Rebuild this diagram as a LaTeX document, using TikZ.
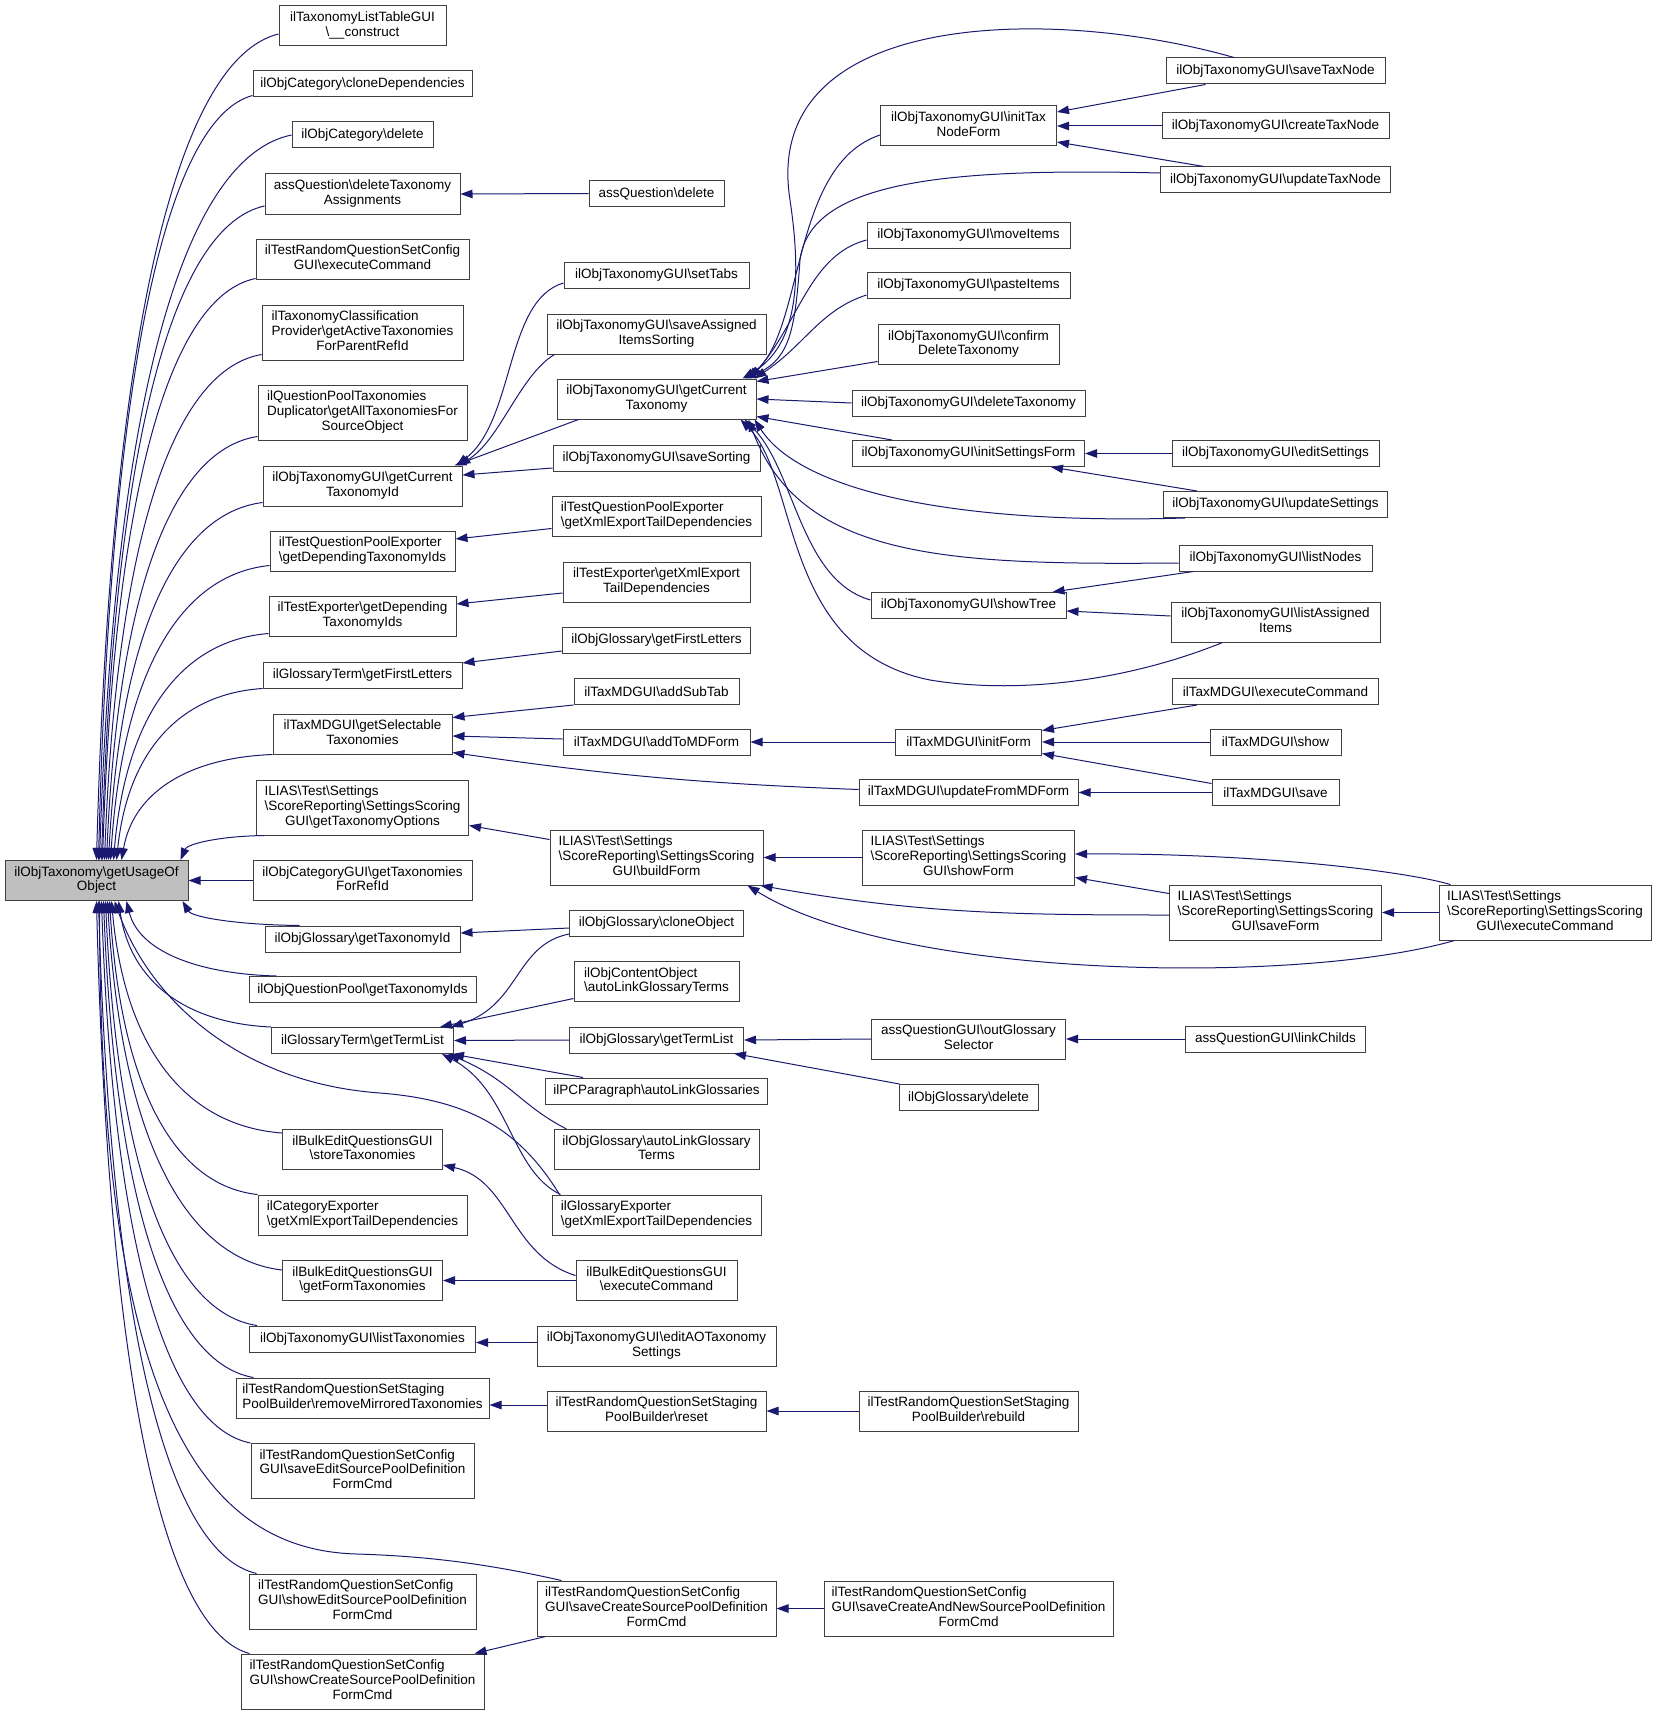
\documentclass[tikz,border=0pt]{standalone}
\usepackage{fontspec}
\setmainfont{Liberation Sans}
\usetikzlibrary{arrows.meta,calc}
\definecolor{edgeBlue}{HTML}{191970}
\definecolor{boxLine}{HTML}{404040}
\definecolor{rootGray}{HTML}{BFBFBF}
\newcommand{\bs}{\textbackslash}
\newcommand{\twol}[2]{\begin{tabular}{@{}l@{}}#1\\\multicolumn{1}{@{}c@{}}{#2}\end{tabular}}
\newcommand{\thrl}[3]{\begin{tabular}{@{}l@{}}#1\\#2\\\multicolumn{1}{@{}c@{}}{#3}\end{tabular}}
% caller end #1, tip on the callee #2
\newcommand{\rootlink}[2]{%
  \draw[link] let \p1=(#2), \p2=(#1) in
    (\p2) .. controls ({\x1+0.45*(\x2-\x1)},{\y2-0.03*(\y2-\y1)})
             and ({\x1+0.08*(\x2-\x1)},{\y1+0.65*(\y2-\y1)}) .. (\p1);}
\tikzset{
  fn/.style={draw=boxLine,line width=1pt,fill=white,inner sep=0pt,
    font=\fontsize{13.5}{14.6}\selectfont},
  hA/.style={minimum height=26pt},
  hB/.style={minimum height=40pt},
  hC/.style={minimum height=55pt},
  wd/.style={minimum width=#1pt},
  link/.style={draw=edgeBlue,line width=1pt,-{Triangle[length=12pt,width=8.5pt]}},
}

\begin{document}
\begin{tikzpicture}[x=1pt,y=1pt]
  \useasboundingbox (0,0) rectangle (1656,-1715);

  \node[fn,fill=rootGray,hB,wd=183] (root) at (96.5,-880.5) {\twol{ilObjTaxonomy\bs getUsageOf}{Object}};

  % first rank of callers
  \node[fn,hB,wd=167] (listtable) at (362.5,-26) {\twol{ilTaxonomyListTableGUI}{\bs\_\_construct}};
  \node[fn,hA,wd=219] (catclone) at (362.5,-84) {ilObjCategory\bs cloneDependencies};
  \node[fn,hA,wd=141] (catdel) at (362.5,-135) {ilObjCategory\bs delete};
  \node[fn,hB,wd=195] (aqdeltax) at (362.5,-194) {\twol{assQuestion\bs deleteTaxonomy}{Assignments}};
  \node[fn,hB,wd=213] (trqscExec) at (362.5,-259) {\twol{ilTestRandomQuestionSetConfig}{GUI\bs executeCommand}};
  \node[fn,hC,wd=201] (taxClass) at (362.5,-332.5) {\thrl{ilTaxonomyClassification}{Provider\bs getActiveTaxonomies}{ForParentRefId}};
  \node[fn,hC,wd=209] (qpTaxDup) at (362.5,-412.5) {\thrl{ilQuestionPoolTaxonomies}{Duplicator\bs getAllTaxonomiesFor}{SourceObject}};
  \node[fn,hB,wd=199] (gcTaxId) at (362.5,-486) {\twol{ilObjTaxonomyGUI\bs getCurrent}{TaxonomyId}};
  \node[fn,hB,wd=185] (tqpeDep) at (362.5,-551) {\twol{ilTestQuestionPoolExporter}{\bs getDependingTaxonomyIds}};
  \node[fn,hB,wd=187] (texpDep) at (362.5,-616) {\twol{ilTestExporter\bs getDepending}{TaxonomyIds}};
  \node[fn,hA,wd=199] (gtFirst) at (362.5,-675) {ilGlossaryTerm\bs getFirstLetters};
  \node[fn,hB,wd=179] (mdSelect) at (362.5,-734) {\twol{ilTaxMDGUI\bs getSelectable}{Taxonomies}};
  \node[fn,hC,wd=212] (ssTaxOpt) at (362.5,-807.5) {\thrl{ILIAS\bs Test\bs Settings}{\bs ScoreReporting\bs SettingsScoring}{GUI\bs getTaxonomyOptions}};
  \node[fn,hB,wd=219] (catGui) at (362.5,-880.5) {\twol{ilObjCategoryGUI\bs getTaxonomies}{ForRefId}};
  \node[fn,hA,wd=195] (ogTaxId) at (362.5,-939) {ilObjGlossary\bs getTaxonomyId};
  \node[fn,hA,wd=227] (oqpTaxIds) at (362.5,-989.5) {ilObjQuestionPool\bs getTaxonomyIds};
  \node[fn,hA,wd=182] (gtTermList) at (362.5,-1040.5) {ilGlossaryTerm\bs getTermList};
  \node[fn,hB,wd=160] (beqStore) at (362.5,-1149.5) {\twol{ilBulkEditQuestionsGUI}{\bs storeTaxonomies}};
  \node[fn,hB,wd=209] (catExp) at (362.5,-1215) {\twol{ilCategoryExporter}{\bs getXmlExportTailDependencies}};
  \node[fn,hB,wd=160] (beqForm) at (362.5,-1280.5) {\twol{ilBulkEditQuestionsGUI}{\bs getFormTaxonomies}};
  \node[fn,hA,wd=226] (otgList) at (362.5,-1339) {ilObjTaxonomyGUI\bs listTaxonomies};
  \node[fn,hB,wd=253] (spbRemove) at (362.5,-1398) {\twol{ilTestRandomQuestionSetStaging}{PoolBuilder\bs removeMirroredTaxonomies}};
  \node[fn,hC,wd=223] (scSaveEdit) at (362.5,-1471) {\thrl{ilTestRandomQuestionSetConfig}{GUI\bs saveEditSourcePoolDefinition}{FormCmd}};
  \node[fn,hC,wd=227] (scShowEdit) at (362.5,-1601.5) {\thrl{ilTestRandomQuestionSetConfig}{GUI\bs showEditSourcePoolDefinition}{FormCmd}};
  \node[fn,hC,wd=243] (scShowCreate) at (362.5,-1681.5) {\thrl{ilTestRandomQuestionSetConfig}{GUI\bs showCreateSourcePoolDefinition}{FormCmd}};

  % second rank
  \node[fn,hA,wd=135] (aqDelete) at (656.5,-193.5) {assQuestion\bs delete};
  \node[fn,hA,wd=185] (otgTabs) at (656.5,-275) {ilObjTaxonomyGUI\bs setTabs};
  \node[fn,hB,wd=219] (otgSaveAssigned) at (656.5,-334) {\twol{ilObjTaxonomyGUI\bs saveAssigned}{ItemsSorting}};
  \node[fn,hB,wd=199] (otgCurrent) at (656.5,-399) {\twol{ilObjTaxonomyGUI\bs getCurrent}{Taxonomy}};
  \node[fn,hA,wd=207] (otgSaveSort) at (656.5,-458) {ilObjTaxonomyGUI\bs saveSorting};
  \node[fn,hB,wd=209] (tqpeXml) at (656.5,-516) {\twol{ilTestQuestionPoolExporter}{\bs getXmlExportTailDependencies}};
  \node[fn,hB,wd=187] (texpXml) at (656.5,-582) {\twol{ilTestExporter\bs getXmlExport}{TailDependencies}};
  \node[fn,hA,wd=188] (ogFirst) at (656.5,-640) {ilObjGlossary\bs getFirstLetters};
  \node[fn,hA,wd=165] (mdSubTab) at (656.5,-691.5) {ilTaxMDGUI\bs addSubTab};
  \node[fn,hA,wd=187] (mdAddTo) at (656.5,-742) {ilTaxMDGUI\bs addToMDForm};
  \node[fn,hC,wd=213] (ssBuild) at (656.5,-857.5) {\thrl{ILIAS\bs Test\bs Settings}{\bs ScoreReporting\bs SettingsScoring}{GUI\bs buildForm}};
  \node[fn,hA,wd=174] (ogClone) at (656.5,-923) {ilObjGlossary\bs cloneObject};
  \node[fn,hB,wd=165] (ocoLink) at (656.5,-981.5) {\twol{ilObjContentObject}{\bs autoLinkGlossaryTerms}};
  \node[fn,hA,wd=174] (ogTermList) at (656.5,-1040) {ilObjGlossary\bs getTermList};
  \node[fn,hA,wd=222] (pcpLink) at (656.5,-1091) {ilPCParagraph\bs autoLinkGlossaries};
  \node[fn,hB,wd=205] (ogLink) at (656.5,-1149.5) {\twol{ilObjGlossary\bs autoLinkGlossary}{Terms}};
  \node[fn,hB,wd=209] (glExp) at (656.5,-1215) {\twol{ilGlossaryExporter}{\bs getXmlExportTailDependencies}};
  \node[fn,hB,wd=161] (beqExec) at (656.5,-1280.5) {\twol{ilBulkEditQuestionsGUI}{\bs executeCommand}};
  \node[fn,hB,wd=239] (otgEditAO) at (656.5,-1346) {\twol{ilObjTaxonomyGUI\bs editAOTaxonomy}{Settings}};
  \node[fn,hB,wd=219] (spbReset) at (656.5,-1411) {\twol{ilTestRandomQuestionSetStaging}{PoolBuilder\bs reset}};
  \node[fn,hC,wd=239] (scSaveCreate) at (656.5,-1608.5) {\thrl{ilTestRandomQuestionSetConfig}{GUI\bs saveCreateSourcePoolDefinition}{FormCmd}};

  % third rank
  \node[fn,hB,wd=176] (otgInitTax) at (968.5,-126) {\twol{ilObjTaxonomyGUI\bs initTax}{NodeForm}};
  \node[fn,hA,wd=203] (otgMove) at (968.5,-235) {ilObjTaxonomyGUI\bs moveItems};
  \node[fn,hA,wd=203] (otgPaste) at (968.5,-285.5) {ilObjTaxonomyGUI\bs pasteItems};
  \node[fn,hB,wd=181] (otgConfirm) at (968.5,-344.5) {\twol{ilObjTaxonomyGUI\bs confirm}{DeleteTaxonomy}};
  \node[fn,hA,wd=233] (otgDelete) at (968.5,-403) {ilObjTaxonomyGUI\bs deleteTaxonomy};
  \node[fn,hA,wd=232] (otgInitSet) at (968.5,-453.5) {ilObjTaxonomyGUI\bs initSettingsForm};
  \node[fn,hA,wd=195] (otgTree) at (968.5,-605.5) {ilObjTaxonomyGUI\bs showTree};
  \node[fn,hA,wd=146] (mdInit) at (968.5,-742) {ilTaxMDGUI\bs initForm};
  \node[fn,hA,wd=219] (mdUpdate) at (968.5,-792.5) {ilTaxMDGUI\bs updateFromMDForm};
  \node[fn,hC,wd=212] (ssShow) at (968.5,-857.5) {\thrl{ILIAS\bs Test\bs Settings}{\bs ScoreReporting\bs SettingsScoring}{GUI\bs showForm}};
  \node[fn,hB,wd=194] (qguiOut) at (968.5,-1039) {\twol{assQuestionGUI\bs outGlossary}{Selector}};
  \node[fn,hA,wd=139] (ogDelete) at (968.5,-1097.5) {ilObjGlossary\bs delete};
  \node[fn,hB,wd=219] (spbRebuild) at (968.5,-1411) {\twol{ilTestRandomQuestionSetStaging}{PoolBuilder\bs rebuild}};
  \node[fn,hC,wd=289] (scSaveNew) at (968.5,-1608.5) {\thrl{ilTestRandomQuestionSetConfig}{GUI\bs saveCreateAndNewSourcePoolDefinition}{FormCmd}};

  % fourth and fifth rank
  \node[fn,hA,wd=219] (otgSaveTax) at (1275.5,-71) {ilObjTaxonomyGUI\bs saveTaxNode};
  \node[fn,hA,wd=227] (otgCreateTax) at (1275.5,-126) {ilObjTaxonomyGUI\bs createTaxNode};
  \node[fn,hA,wd=230] (otgUpdateTax) at (1275.5,-180) {ilObjTaxonomyGUI\bs updateTaxNode};
  \node[fn,hA,wd=207] (otgEditSet) at (1275.5,-453.5) {ilObjTaxonomyGUI\bs editSettings};
  \node[fn,hA,wd=224] (otgUpdateSet) at (1275.5,-504.5) {ilObjTaxonomyGUI\bs updateSettings};
  \node[fn,hA,wd=193] (otgListNodes) at (1275.5,-558) {ilObjTaxonomyGUI\bs listNodes};
  \node[fn,hB,wd=209] (otgListItems) at (1275.5,-622) {\twol{ilObjTaxonomyGUI\bs listAssigned}{Items}};
  \node[fn,hA,wd=206] (mdExec) at (1275.5,-691.5) {ilTaxMDGUI\bs executeCommand};
  \node[fn,hA,wd=131] (mdShow) at (1275.5,-742) {ilTaxMDGUI\bs show};
  \node[fn,hA,wd=127] (mdSave) at (1275.5,-792.5) {ilTaxMDGUI\bs save};
  \node[fn,hC,wd=212] (ssSaveForm) at (1275.5,-912.5) {\thrl{ILIAS\bs Test\bs Settings}{\bs ScoreReporting\bs SettingsScoring}{GUI\bs saveForm}};
  \node[fn,hA,wd=180] (qguiLink) at (1275.5,-1039) {assQuestionGUI\bs linkChilds};
  \node[fn,hC,wd=212] (ssExec) at (1545,-912.5) {\thrl{ILIAS\bs Test\bs Settings}{\bs ScoreReporting\bs SettingsScoring}{GUI\bs executeCommand}};

  % callers of the root, upper half
  \rootlink{[yshift=-8pt]listtable.west}{root.north}
  \rootlink{[yshift=2pt]catclone.south west}{[xshift=2pt]root.north}
  \rootlink{catdel.west}{[xshift=3pt]root.north}
  \rootlink{[yshift=-12pt]aqdeltax.west}{[xshift=5pt]root.north}
  \rootlink{[yshift=1pt]trqscExec.south west}{[xshift=6pt]root.north}
  \rootlink{[yshift=6pt]taxClass.south west}{[xshift=8pt]root.north}
  \rootlink{[yshift=4pt]qpTaxDup.south west}{[xshift=10pt]root.north}
  \rootlink{[yshift=4pt]gcTaxId.south west}{[xshift=12pt]root.north}
  \rootlink{[yshift=6pt]tqpeDep.south west}{[xshift=14pt]root.north}
  \rootlink{[yshift=3pt]texpDep.south west}{[xshift=17pt]root.north}
  \rootlink{gtFirst.south west}{[xshift=20pt]root.north}
  \rootlink{mdSelect.south west}{[xshift=25pt]root.north}
  \rootlink{[xshift=8pt]ssTaxOpt.south west}{[xshift=-8pt]root.north east}
  \draw[link] (catGui.west) -- (root.east);
  % lower half
  \rootlink{[xshift=35pt]ogTaxId.north west}{[xshift=-6pt]root.south east}
  \rootlink{[xshift=28pt]oqpTaxIds.north west}{[xshift=30pt]root.south}
  \rootlink{gtTermList.north west}{[xshift=22pt]root.south}
  \draw[link] ([xshift=8pt]glExp.north west) .. controls (520,-1130) and (470,-1100) .. (380,-1093)
    .. controls (240,-1083) and (150,-1000) .. ([xshift=18pt]root.south);
  \rootlink{[yshift=-4pt]beqStore.north west}{[xshift=15pt]root.south}
  \rootlink{catExp.north west}{[xshift=13pt]root.south}
  \rootlink{[yshift=-10pt]beqForm.north west}{[xshift=11pt]root.south}
  \rootlink{[xshift=8pt]otgList.north west}{[xshift=9pt]root.south}
  \rootlink{[xshift=18pt]spbRemove.north west}{[xshift=7pt]root.south}
  \rootlink{scSaveEdit.north west}{[xshift=5pt]root.south}
  \draw[link] ([xshift=25pt]scSaveCreate.north west) .. controls (480,-1562) and (420,-1556) .. (357,-1554)
    .. controls (200,-1550) and (100,-1400) .. ([xshift=3pt]root.south);
  \rootlink{[xshift=8pt]scShowEdit.north west}{[xshift=2pt]root.south}
  \rootlink{[xshift=9pt]scShowCreate.north west}{root.south}

  % second rank to first rank
  \draw[link] (aqDelete.west) -- (aqdeltax.east);
  \draw[link] ([yshift=-8pt]otgTabs.west) .. controls (505,-300) and (515,-420) .. ([xshift=-6pt]gcTaxId.north east);
  \draw[link] ([xshift=8pt]otgSaveAssigned.south west) .. controls (520,-375) and (500,-440) .. ([xshift=-4pt]gcTaxId.north east);
  \draw[link] ([xshift=22pt]otgCurrent.south west) -- ([xshift=-8pt]gcTaxId.north east);
  \draw[link] ([yshift=-10pt]otgSaveSort.west) -- ([yshift=11pt]gcTaxId.east);
  \draw[link] ([yshift=-12.5pt]tqpeXml.west) -- ([yshift=12pt]tqpeDep.east);
  \draw[link] ([yshift=-11pt]texpXml.west) -- ([yshift=12pt]texpDep.east);
  \draw[link] ([yshift=-11pt]ogFirst.west) -- ([yshift=12pt]gtFirst.east);
  \draw[link] (mdSubTab.south west) -- ([yshift=-4pt]mdSelect.north east);
  \draw[link] ([yshift=3pt]mdAddTo.west) -- ([yshift=-2pt]mdSelect.east);
  \draw[link] ([yshift=3pt]mdUpdate.west) to[bend left=3] ([yshift=2pt]mdSelect.south east);
  \draw[link] ([yshift=18pt]ssBuild.west) -- ([yshift=-18pt]ssTaxOpt.east);
  \draw[link] ([yshift=-5pt]ogClone.west) -- ([yshift=6pt]ogTaxId.east);
  \draw[link] ([yshift=-11pt]ogClone.west) .. controls (515,-945) and (520,-1005) .. ([xshift=-3pt]gtTermList.north east);
  \draw[link] ([yshift=3.5pt]ocoLink.south west) -- ([xshift=-14pt]gtTermList.north east);
  \draw[link] (ogTermList.west) -- (gtTermList.east);
  \draw[link] ([xshift=38pt]pcpLink.north west) -- ([xshift=-2pt]gtTermList.south east);
  \draw[link] ([xshift=13pt]ogLink.north west) .. controls (520,-1105) and (510,-1080) .. ([xshift=-6pt]gtTermList.south east);
  \draw[link] ([xshift=9pt]glExp.north west) .. controls (510,-1170) and (510,-1090) .. ([xshift=-12pt]gtTermList.south east);
  \draw[link] ([yshift=5pt]beqExec.west) .. controls (510,-1255) and (510,-1180) .. ([yshift=5pt]beqStore.south east);
  \draw[link] (beqExec.west) -- (beqForm.east);
  \draw[link] ([yshift=3.5pt]otgEditAO.west) -- ([yshift=-3.5pt]otgList.east);
  \draw[link] ([yshift=6pt]spbReset.west) -- ([yshift=-7pt]spbRemove.east);
  \draw[link] ([xshift=9pt]scSaveCreate.south west) -- ([xshift=-10pt]scShowCreate.north east);

  % third rank to second rank
  \draw[link] ([xshift=-41.5pt]otgSaveTax.north) .. controls (1050,-5) and (760,-10) .. (790,-200)
    .. controls (805,-300) and (790,-350) .. ([xshift=-14pt]otgCurrent.north east);
  \draw[link] ([yshift=-9pt]otgInitTax.west) .. controls (790,-165) and (805,-330) .. ([xshift=-10pt]otgCurrent.north east);
  \draw[link] ([yshift=7pt]otgUpdateTax.west) .. controls (950,-168) and (810,-180) .. (800,-260)
    .. controls (795,-330) and (790,-360) .. ([xshift=-12pt]otgCurrent.north east);
  \draw[link] ([yshift=-5pt]otgMove.west) .. controls (810,-255) and (800,-320) .. ([xshift=-6pt]otgCurrent.north east);
  \draw[link] ([yshift=-9.5pt]otgPaste.west) .. controls (820,-310) and (805,-345) .. ([xshift=-2pt]otgCurrent.north east);
  \draw[link] ([yshift=3.5pt]otgConfirm.south west) -- ([yshift=-3pt]otgCurrent.north east);
  \draw[link] (otgDelete.west) -- (otgCurrent.east);
  \draw[link] ([xshift=40pt]otgInitSet.north west) -- ([yshift=3pt]otgCurrent.south east);
  \draw[link] ([xshift=22pt]otgUpdateSet.south west) .. controls (950,-525) and (800,-490) .. ([xshift=-2pt]otgCurrent.south east);
  \draw[link] ([yshift=-5pt]otgListNodes.west) .. controls (950,-565) and (800,-560) .. ([xshift=-8pt]otgCurrent.south east);
  \draw[link] ([yshift=5.5pt]otgTree.west) .. controls (800,-580) and (795,-470) .. ([xshift=-12pt]otgCurrent.south east);
  \draw[link] ([xshift=52pt]otgListItems.south west) .. controls (1130,-680) and (1020,-695) .. (930,-680)
    .. controls (780,-650) and (800,-480) .. ([xshift=-16pt]otgCurrent.south east);
  \draw[link] (mdInit.west) -- (mdAddTo.east);
  \draw[link] (ssShow.west) -- (ssBuild.east);
  \draw[link] (qguiOut.west) -- (ogTermList.east);
  \draw[link] ([xshift=1pt]ogDelete.north west) -- ([xshift=-10pt]ogTermList.south east);
  \draw[link] (spbRebuild.west) -- (spbReset.east);
  \draw[link] (scSaveNew.west) -- (scSaveCreate.east);

  % fourth rank to third rank
  \draw[link] ([xshift=40pt]otgSaveTax.south west) -- ([yshift=14pt]otgInitTax.east);
  \draw[link] (otgCreateTax.west) -- (otgInitTax.east);
  \draw[link] ([xshift=44pt]otgUpdateTax.north west) -- ([yshift=-16pt]otgInitTax.east);
  \draw[link] (otgEditSet.west) -- (otgInitSet.east);
  \draw[link] ([xshift=34pt]otgUpdateSet.north west) -- ([xshift=-34pt]otgInitSet.south east);
  \draw[link] ([xshift=15pt]otgListNodes.south west) -- ([xshift=-14pt]otgTree.north east);
  \draw[link] ([yshift=6pt]otgListItems.west) -- ([yshift=-5.5pt]otgTree.east);
  \draw[link] ([xshift=25pt]mdExec.south west) -- ([yshift=-2pt]mdInit.north east);
  \draw[link] (mdShow.west) -- (mdInit.east);
  \draw[link] ([yshift=9pt]mdSave.west) -- ([yshift=2pt]mdInit.south east);
  \draw[link] (mdSave.west) -- (mdUpdate.east);
  \draw[link] ([yshift=-2.5pt]ssSaveForm.west) to[out=180,in=-10] ([xshift=-3pt]ssBuild.south east);
  \draw[link] ([yshift=19pt]ssSaveForm.west) -- ([yshift=-20pt]ssShow.east);
  \draw[link] ([xshift=16pt]ssExec.south west) .. controls (1300,-985) and (900,-980) .. ([xshift=-16pt]ssBuild.south east);
  \draw[link] ([xshift=12pt]ssExec.north west) .. controls (1400,-870) and (1250,-853) .. ([yshift=3.5pt]ssShow.east);
  \draw[link] (ssExec.west) -- (ssSaveForm.east);
  \draw[link] (qguiLink.west) -- (qguiOut.east);
\end{tikzpicture}
\end{document}
